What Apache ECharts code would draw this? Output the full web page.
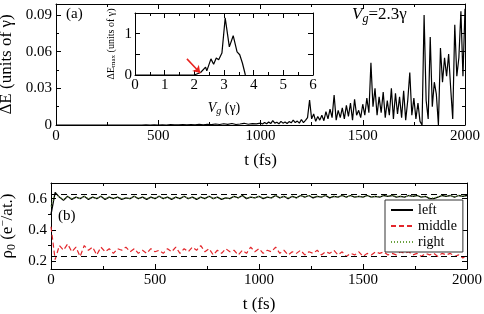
<!DOCTYPE html>
<html><head><meta charset="utf-8">
<script src="https://cdn.jsdelivr.net/npm/echarts@6/dist/echarts.min.js"></script>
<style>html,body{margin:0;padding:0;background:#fff}#c{width:484px;height:314px}</style>
</head><body><div id="c"></div>
<script>
// ---- Panel (a): energy vs time ----
const dE_early = [0,0,0,0,0,0,0,0,0,0, 0,0,0,0,0,0,0,0,0,0, 0,0,0.0002,0,0.0001,0,0.0002,0,0.0003,0.0001,
  0.0002,0.0004,0.0001,0.0003,0.0002,0.0005,0.0002,0.0006,0.0003,0.0008, 0.0004,0.0010,0.0005,0.0012,0.0004,0.0008,0.0014,0.0006,0.0011,0.0009]; // t = 0..980 step 20
const dE_late = [0.0015,0.0008,0.0020,0.0010,0.0025,0.0012,0.0035,0.0015,0.0022,0.0010,
  0.0030,0.0015,0.0025,0.0012,0.0028,0.0018,0.0040,0.0020,0.0032,0.0015,
  0.0045,0.0020,0.0038,0.0060,0.0205,0.0050,0.0090,0.0030,0.0070,0.0040,
  0.0080,0.0035,0.0110,0.0050,0.0130,0.0060,0.0245,0.0040,0.0120,0.0060,
  0.0140,0.0050,0.0160,0.0070,0.0180,0.0040,0.0210,0.0080,0.0120,0.0060,
  0.0170,0.0080,0.0220,0.0100,0.0510,0.0150,0.0300,0.0080,0.0230,0.0100,
  0.0270,0.0060,0.0200,0.0080,0.0300,0.0050,0.0260,0.0090,0.0230,0.0060,
  0.0280,0.0040,0.0200,0.0430,0.0080,0.0220,0.0050,0.0180,0.0030,0.0000,
  0.0900,0.0200,0.0050,0.0720,0.0150,0.0350,0.0250,0.0000,0.0630,0.0350,
  0.0550,0.0400,0.0580,0.0300,0.0050,0.0820,0.0400,0.0550,0.0930,0.0400,0.0950]; // t = 1000..2000 step 10

// ---- Inset: dEmax vs Vg ----
const Vg    = [0, 1, 2, 2.21, 2.38, 2.42, 2.56, 2.65, 2.74, 2.82, 2.93, 3.04, 3.18, 3.31, 3.44, 3.53, 3.62, 3.70, 3.72];
const dEmax = [0, 0, 0, 0.06, 0.19, 0.10, 0.39, 0.26, 0.41, 0.37, 0.53, 1.38, 0.68, 0.95, 0.56, 0.49, 0.29, 0.06, 0];
const arrowFrom = [1.75, 0.39];
const arrowTo   = [2.20, 0.05];

// ---- Panel (b): densities vs time (t = 0..2000 step 20) ----
const rhoLeft = [0.50,0.64,0.61,0.59,0.615,0.595,0.61,0.60,0.615,0.595,
  0.61,0.60,0.615,0.595,0.61,0.60,0.61,0.595,0.605,0.60,
  0.615,0.60,0.61,0.595,0.61,0.60,0.615,0.60,0.61,0.595,
  0.61,0.60,0.615,0.60,0.61,0.595,0.61,0.60,0.615,0.60,
  0.61,0.595,0.605,0.60,0.615,0.605,0.62,0.60,0.61,0.605,
  0.615,0.60,0.61,0.605,0.62,0.605,0.615,0.60,0.615,0.605,
  0.62,0.61,0.62,0.605,0.615,0.61,0.62,0.605,0.615,0.61,
  0.62,0.61,0.62,0.61,0.615,0.61,0.62,0.61,0.615,0.61,
  0.62,0.615,0.62,0.61,0.615,0.61,0.62,0.615,0.62,0.61,
  0.615,0.60,0.60,0.61,0.62,0.615,0.62,0.61,0.62,0.615,0.62];
const rhoMiddle = [0.42,0.21,0.30,0.27,0.31,0.26,0.29,0.23,0.30,0.27,
  0.29,0.24,0.29,0.26,0.28,0.25,0.28,0.27,0.29,0.26,
  0.28,0.25,0.27,0.25,0.28,0.26,0.27,0.25,0.28,0.26,
  0.29,0.25,0.28,0.26,0.29,0.27,0.30,0.26,0.28,0.24,
  0.27,0.25,0.28,0.26,0.27,0.24,0.27,0.25,0.29,0.26,
  0.28,0.25,0.27,0.26,0.29,0.25,0.27,0.24,0.26,0.25,
  0.27,0.24,0.26,0.25,0.27,0.24,0.26,0.25,0.27,0.24,
  0.26,0.23,0.25,0.24,0.26,0.23,0.25,0.24,0.26,0.25,
  0.26,0.24,0.25,0.24,0.26,0.25,0.26,0.24,0.25,0.23,
  0.25,0.24,0.25,0.23,0.25,0.24,0.25,0.23,0.24,0.22,0.24];
const rhoRight = [0.55,0.635,0.61,0.595,0.615,0.60,0.61,0.60,0.615,0.60,
  0.61,0.60,0.615,0.60,0.61,0.60,0.61,0.60,0.605,0.60,
  0.615,0.60,0.61,0.60,0.61,0.60,0.615,0.60,0.61,0.60,
  0.61,0.60,0.615,0.60,0.61,0.60,0.61,0.60,0.615,0.60,
  0.61,0.60,0.605,0.60,0.615,0.605,0.62,0.605,0.61,0.605,
  0.615,0.605,0.61,0.605,0.62,0.605,0.615,0.605,0.615,0.605,
  0.62,0.61,0.62,0.61,0.615,0.61,0.62,0.61,0.615,0.61,
  0.62,0.61,0.62,0.61,0.615,0.61,0.62,0.61,0.615,0.61,
  0.62,0.615,0.62,0.615,0.615,0.61,0.62,0.615,0.62,0.61,
  0.615,0.605,0.605,0.61,0.62,0.615,0.62,0.61,0.62,0.615,0.62];
const refLevels = [0.625, 0.232];
const bottomMajorY = [0.2, 0.4, 0.6];
const bottomMinorY = [0.3, 0.5];

// time grids (sampling only)
const tTop = [];
for (let i = 0; i < dE_early.length; i++) tTop.push(i * 20);
for (let i = 0; i < dE_late.length; i++) tTop.push(1000 + i * 10);
const dETop = dE_early.concat(dE_late);
const tBot = rhoLeft.map((_, i) => i * 20);
const zip = (xs, ys) => xs.map((x, i) => [x, ys[i]]);

const FONT = 'Liberation Serif';
const C = '#000';
const lbl = (extra) => Object.assign({show: true, color: C, fontFamily: FONT, fontSize: 15, margin: 4, formatter: v => String(v)}, extra);
const baseAxis = (extra) => Object.assign({
  type: 'value',
  axisLine: {show: true, onZero: false, lineStyle: {color: C, width: 1}},
  axisTick: {show: true, inside: true, length: 5, lineStyle: {color: C}},
  minorTick: {show: true, splitNumber: 2, length: 3, lineStyle: {color: C}},
  splitLine: {show: false}, minorSplitLine: {show: false},
  axisLabel: lbl({}),
  nameTextStyle: {color: C, fontFamily: FONT, fontSize: 17}
}, extra);
const mirror = (extra) => baseAxis(Object.assign({axisLabel: {show: false}}, extra));

const gridBase = {containLabel: false, outerBoundsMode: 'none', show: false};
const chart = echarts.init(document.getElementById('c'), null, {renderer: 'canvas'});
chart.setOption({
  animation: false,
  backgroundColor: '#fff',
  textStyle: {fontFamily: FONT, color: C},
  grid: [
    Object.assign({left: 56, top: 4, width: 409, height: 121}, gridBase),
    Object.assign({left: 135, top: 13, width: 178, height: 62}, gridBase),
    Object.assign({left: 51, top: 183, width: 416, height: 86}, gridBase)
  ],
  xAxis: [
    baseAxis({gridIndex: 0, min: 0, max: 2000, interval: 500, name: 't (fs)', nameLocation: 'middle', nameGap: 27}),
    mirror({gridIndex: 0, position: 'top', min: 0, max: 2000, interval: 500}),
    baseAxis({gridIndex: 1, min: 0, max: 6, interval: 1, axisLabel: lbl({margin: 3}),
      name: '{i|V}{s|g} (γ)', nameLocation: 'middle', nameGap: 25,
      nameTextStyle: {color: C, fontFamily: FONT, fontSize: 14, rich: {i: {fontStyle: 'italic', fontFamily: FONT, fontSize: 14}, s: {fontStyle: 'italic', fontFamily: FONT, fontSize: 10, padding: [6, 0, 0, 0]}}}}),
    mirror({gridIndex: 1, position: 'top', min: 0, max: 6, interval: 1}),
    baseAxis({gridIndex: 2, min: 0, max: 2000, interval: 500, name: 't (fs)', nameLocation: 'middle', nameGap: 27}),
    mirror({gridIndex: 2, position: 'top', min: 0, max: 2000, interval: 500})
  ],
  yAxis: [
    baseAxis({gridIndex: 0, min: 0, max: 0.099, interval: 0.03,
      axisLabel: lbl({formatter: v => v === 0 ? '0' : v.toFixed(2)}),
      name: 'ΔE (units of γ)', nameLocation: 'middle', nameGap: 37}),
    mirror({gridIndex: 0, position: 'right', min: 0, max: 0.099, interval: 0.03}),
    baseAxis({gridIndex: 1, min: 0, max: 1.5, interval: 0.5, minorTick: {show: false},
      axisLabel: lbl({margin: 3, formatter: v => Number.isInteger(v) ? String(v) : ''}),
      name: 'ΔE{s|max} (units of γ)', nameLocation: 'middle', nameGap: 18,
      nameTextStyle: {color: C, fontFamily: FONT, fontSize: 10, rich: {s: {fontFamily: FONT, fontSize: 7, padding: [5, 0, 0, 0]}}}}),
    mirror({gridIndex: 1, position: 'right', min: 0, max: 1.5, interval: 0.5, minorTick: {show: false}}),
    baseAxis({gridIndex: 2, min: 0.15, max: 0.7, minorTick: {show: false},
      axisTick: {show: true, inside: true, length: 5, lineStyle: {color: C}, customValues: bottomMajorY},
      axisLabel: lbl({customValues: bottomMajorY, formatter: v => v.toFixed(1)}),
      name: 'ρ{s|0} (e{u|−}/at.)', nameLocation: 'middle', nameGap: 32,
      nameTextStyle: {color: C, fontFamily: FONT, fontSize: 17, rich: {s: {fontFamily: FONT, fontSize: 12, padding: [8, 0, 0, 0]}, u: {fontFamily: FONT, fontSize: 11, padding: [0, 0, 8, 0]}}}}),
    baseAxis({gridIndex: 2, min: 0.15, max: 0.7, minorTick: {show: false}, axisLine: {show: false},
      axisTick: {show: true, inside: true, length: 3, lineStyle: {color: C}, customValues: bottomMinorY}, axisLabel: {show: false}}),
    mirror({gridIndex: 2, position: 'right', min: 0.15, max: 0.7, minorTick: {show: false},
      axisTick: {show: true, inside: true, length: 5, lineStyle: {color: C}, customValues: bottomMajorY}}),
    mirror({gridIndex: 2, position: 'right', min: 0.15, max: 0.7, minorTick: {show: false}, axisLine: {show: false},
      axisTick: {show: true, inside: true, length: 3, lineStyle: {color: C}, customValues: bottomMinorY}})
  ],
  legend: {
    show: true, data: ['left', 'middle', 'right'], orient: 'vertical', left: 385, top: 200,
    itemWidth: 22, itemHeight: 12, itemGap: 2, padding: [3, 6, 3, 5],
    itemStyle: {opacity: 0},
    backgroundColor: '#fff', borderColor: '#333', borderWidth: 1, borderRadius: 0,
    textStyle: {color: C, fontFamily: FONT, fontSize: 14}
  },
  graphic: [
    {type: 'text', left: 66, top: 7, style: {text: '(a)', font: '15px "Liberation Serif"', fill: C}},
    {type: 'text', left: 352, top: 6, style: {text: '{i|V}{s|g}=2.3γ', font: '17px "Liberation Serif"', fill: C,
      rich: {i: {fontStyle: 'italic', fontSize: 17, fontFamily: FONT}, s: {fontStyle: 'italic', fontSize: 12, fontFamily: FONT, padding: [9, 0, 0, 0]}}}},
    {type: 'text', left: 58, top: 209, style: {text: '(b)', font: '15px "Liberation Serif"', fill: C}}
  ],
  series: [
    {type: 'line', xAxisIndex: 0, yAxisIndex: 0, data: zip(tTop, dETop), showSymbol: false, symbol: 'none', lineStyle: {color: C, width: 1.2}, z: 2},
    {type: 'line', xAxisIndex: 2, yAxisIndex: 2, data: zip(Vg, dEmax), showSymbol: false, symbol: 'none', lineStyle: {color: C, width: 1.2}, z: 3,
      markLine: {silent: true, symbol: ['none', 'arrow'], symbolSize: 7, label: {show: false},
        lineStyle: {color: '#e8211d', width: 1.5, type: 'solid'},
        data: [[{coord: arrowFrom}, {coord: arrowTo}]]}},
    {name: 'left', type: 'line', xAxisIndex: 4, yAxisIndex: 4, data: zip(tBot, rhoLeft), showSymbol: false, symbol: 'none',
      itemStyle: {color: C}, lineStyle: {color: C, width: 1.3}},
    {name: 'middle', type: 'line', xAxisIndex: 4, yAxisIndex: 4, data: zip(tBot, rhoMiddle), showSymbol: false, symbol: 'none',
      itemStyle: {color: '#e3262b'}, lineStyle: {color: '#e3262b', width: 1.2, type: [5, 3]},
      markLine: {silent: true, symbol: 'none', label: {show: false}, lineStyle: {color: C, width: 1, type: [6, 4]},
        data: refLevels.map(v => ({yAxis: v}))}},
    {name: 'right', type: 'line', xAxisIndex: 4, yAxisIndex: 4, data: zip(tBot, rhoRight), showSymbol: false, symbol: 'none',
      itemStyle: {color: '#6aa13f'}, lineStyle: {color: '#6aa13f', width: 1.2, type: [1, 2]}}
  ]
});
</script></body></html>
